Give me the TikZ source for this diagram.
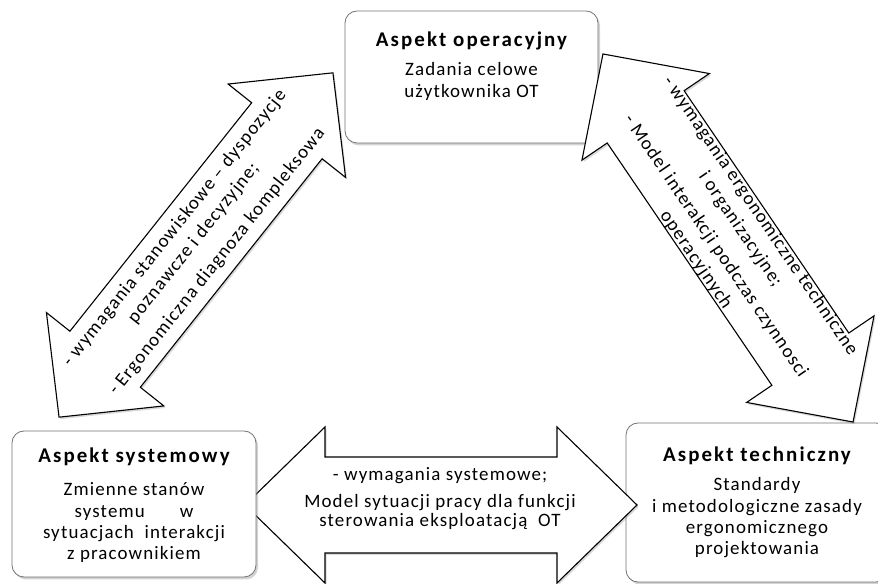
\documentclass[tikz,border=0pt]{standalone}
\usepackage{fontspec}
\setmainfont{Carlito}[LetterSpace=6]
\newfontfamily\titlefont{Carlito}[LetterSpace=10]
\usetikzlibrary{calc,shadows}

\tikzset{
  aspbox/.style={draw=black!55, line width=0.8bp, fill=white, rounded corners=12bp,
    drop shadow={shadow xshift=2bp, shadow yshift=-2.5bp, opacity=0.35}},
  asptext/.style={align=center, inner sep=0pt, font=\fontsize{19}{21.5}\selectfont},
  blocktext/.style={align=center, inner sep=0pt, font=\fontsize{19}{24}\selectfont},
  blockline/.style={draw=black, line width=1.1bp, fill=white, line join=miter,
    drop shadow={shadow xshift=1.5bp, shadow yshift=-2bp, opacity=0.3}},
  pics/dblarrow/.style n args={4}{code={
    \path[blockline] (-#1,0) -- (-#1+#2,#3) -- (-#1+#2,#4) -- (#1-#2,#4) -- (#1-#2,#3)
      -- (#1,0) -- (#1-#2,-#3) -- (#1-#2,-#4) -- (-#1+#2,-#4) -- (-#1+#2,-#3) -- cycle;
  }}
}
\newcommand{\asptitle}[1]{{\titlefont\bfseries\fontsize{21}{21.5}\selectfont #1}}

\begin{document}
\begin{tikzpicture}[x=1bp,y=1bp]
    \useasboundingbox (0,0) rectangle (878,584);

    % aspects
    \node (oper) at (471.5,507) [aspbox, minimum width=253bp, minimum height=132bp] {};
    \node (opertxt) at (471.5,486.7) [asptext, anchor=base]
      {\asptitle{Aspekt operacyjny}\\[8bp]
       Zadania celowe\\użytkownika OT};
    \node (tech) at (757,81.5) [aspbox, minimum width=262bp, minimum height=159bp] {};
    \node (techtxt) at (757,29) [asptext, anchor=base]
      {\asptitle{Aspekt techniczny}\\[8bp]
       Standardy\\i metodologiczne zasady\\ergonomicznego\\projektowania};

    % block arrows
    \pic[rotate=51.5] at (196,339) {dblarrow={220}{74}{75}{45}};
    \node (sysoper) at (196,339) [blocktext, rotate=51.5]
      {- wymagania stanowiskowe -- dyspozycje\\poznawcze i decyzyjne;\\[6bp]
       - Ergonomiczna diagnoza kompleksowa};

    \pic[rotate=-55.8] at (728,346) {dblarrow={222.5}{76}{77}{46.5}};
    \node (opertech) at (728,346) [blocktext, rotate=-55.8]
      {- wymagania ergonomiczne techniczne\\i organizacyjne;\\[6bp]
       - Model interakcji podczas czynnosci\\operacyjnych};

    \pic at (441,79) {dblarrow={196}{80}{78}{48}};
    \node (systech) at (440,85) [blocktext, font=\fontsize{19}{19}\selectfont]
      {- wymagania systemowe;\\[8bp]
       Model sytuacji pracy dla funkcji\\sterowania eksploatacją\ \ OT};

    \node (syst) at (134,80) [aspbox, minimum width=244bp, minimum height=146bp] {};
    \node (systtxt) at (134,24) [asptext, anchor=base]
      {\asptitle{Aspekt systemowy}\\[12bp]
       Zmienne stanów\\systemu\hspace{35bp}w\\sytuacjach\ \ interakcji\\z pracownikiem};
\end{tikzpicture}
\end{document}
